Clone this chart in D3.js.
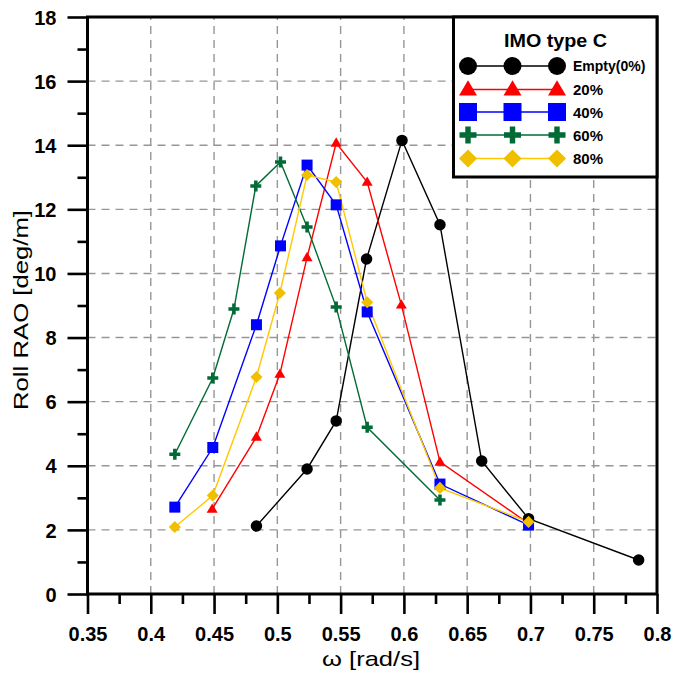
<!DOCTYPE html>
<html>
<head>
<meta charset="utf-8">
<script src="https://cdn.jsdelivr.net/npm/d3@7"></script>
<style>
  html, body { margin: 0; padding: 0; background: #fff; }
  svg { display: block; font-family: "Liberation Sans", Arial, sans-serif; }
</style>
</head>
<body>
<svg id="chart" width="673" height="674"></svg>
<script>
// Roll RAO vs wave frequency, IMO type C tank at several filling levels
const seriesNames = ["Empty(0%)", "20%", "40%", "60%", "80%"];
const seriesColors = ["#000000", "#ff0000", "#0000ff", "#006b35", "#ffc800"];
const markerColors = ["#000000", "#ff0000", "#0000ff", "#006b35", "#f0c000"];
const markerTypes = ["circle", "triangle", "square", "plus", "diamond"];

const omegaEmpty = [0.4835, 0.5235, 0.5465, 0.5705, 0.5985, 0.6285, 0.6615, 0.6985, 0.7855];
const raoEmpty   = [2.12, 3.90, 5.40, 10.45, 14.15, 11.52, 4.15, 2.35, 1.06];

const omega20 = [0.4485, 0.4835, 0.5020, 0.5235, 0.5465, 0.5710, 0.5980, 0.6285, 0.6985];
const rao20   = [2.65, 4.90, 6.86, 10.50, 14.07, 12.85, 9.02, 4.12, 2.20];

const omega40 = [0.4190, 0.4490, 0.4835, 0.5025, 0.5235, 0.5465, 0.5710, 0.6285, 0.6985];
const rao40   = [2.71, 4.57, 8.40, 10.86, 13.38, 12.14, 8.80, 3.43, 2.15];

const omega60 = [0.4190, 0.4490, 0.4657, 0.4830, 0.5025, 0.5235, 0.5465, 0.5710, 0.6285];
const rao60   = [4.36, 6.74, 8.89, 12.73, 13.48, 11.45, 8.95, 5.20, 2.93];

const omega80 = [0.4190, 0.4490, 0.4835, 0.5020, 0.5235, 0.5465, 0.5710, 0.6285, 0.6985];
const rao80   = [2.09, 3.07, 6.77, 9.39, 13.07, 12.85, 9.10, 3.31, 2.25];

const xTicks = [0.35, 0.4, 0.45, 0.5, 0.55, 0.6, 0.65, 0.7, 0.75, 0.8];
const yTicks = [0, 2, 4, 6, 8, 10, 12, 14, 16, 18];
const legendTitle = "IMO type C";
const xTitle = "ω [rad/s]";
const yTitle = "Roll RAO [deg/m]";

const omegas = [omegaEmpty, omega20, omega40, omega60, omega80];
const raos = [raoEmpty, rao20, rao40, rao60, rao80];
const series = seriesNames.map((name, i) => ({
  name, color: seriesColors[i], mcolor: markerColors[i], type: markerTypes[i],
  pts: omegas[i].map((w, j) => [w, raos[i][j]])
}));

const margin = { left: 87.5, top: 17, right: 16, bottom: 80 };
const W = 673, H = 674;
const svg = d3.select("#chart");

const x = d3.scaleLinear().domain([0.35, 0.8]).range([margin.left, W - margin.right]);
const y = d3.scaleLinear().domain([0, 18]).range([H - margin.bottom, margin.top]);

// dashed grid
const grid = svg.append("g");
grid.selectAll("line.v").data(xTicks.slice(1, -1)).join("line")
  .attr("x1", d => x(d)).attr("x2", d => x(d))
  .attr("y1", y(0)).attr("y2", y(18))
  .attr("stroke", "#969696").attr("stroke-width", 1.4).attr("stroke-dasharray", "8,6");
grid.selectAll("line.h").data(yTicks.slice(1, -1)).join("line")
  .attr("x1", x(0.35)).attr("x2", x(0.8))
  .attr("y1", d => y(d)).attr("y2", d => y(d))
  .attr("stroke", "#969696").attr("stroke-width", 1.4).attr("stroke-dasharray", "8,6");

// axes with minor ticks
const xMinor = d3.range(0.375, 0.8, 0.05);
const yMinor = d3.range(1, 18, 2);

const xAxis = svg.append("g").attr("transform", `translate(0,${y(0)})`)
  .call(d3.axisBottom(x).tickValues(xTicks).tickFormat(d => String(+d.toFixed(2))).tickSize(20).tickPadding(4).tickSizeOuter(0));
svg.append("g").attr("transform", `translate(0,${y(0)})`)
  .call(d3.axisBottom(x).tickValues(xMinor).tickFormat("").tickSize(10).tickSizeOuter(0))
  .select(".domain").remove();
const yAxis = svg.append("g").attr("transform", `translate(${x(0.35)},0)`)
  .call(d3.axisLeft(y).tickValues(yTicks).tickSize(20).tickPadding(11).tickSizeOuter(0));
svg.append("g").attr("transform", `translate(${x(0.35)},0)`)
  .call(d3.axisLeft(y).tickValues(yMinor).tickFormat("").tickSize(10).tickSizeOuter(0))
  .select(".domain").remove();

svg.selectAll(".tick line").attr("stroke", "#000").attr("stroke-width", 2.6);
[xAxis, yAxis].forEach(a => {
  a.attr("font-size", null).attr("font-family", null);
  a.selectAll("text").attr("fill", "#000").style("font-size", "20px").style("font-weight", "bold")
    .style("font-family", "'Liberation Sans', Arial, sans-serif");
  a.select(".domain").remove();
});
xAxis.selectAll("text").attr("dy", null).attr("y", 47);
yAxis.selectAll("text").attr("dy", "0.36em");

// series lines
const line = d3.line().x(d => x(d[0])).y(d => y(d[1]));
svg.append("g").selectAll("path").data(series).join("path")
  .attr("d", d => line(d.pts)).attr("fill", "none")
  .attr("stroke", d => d.color).attr("stroke-width", 1.4);

function drawMarker(g, type, color, s) {
  // s: nominal marker size (px)
  if (type === "circle") {
    g.append("circle").attr("r", s / 2).attr("fill", color);
  } else if (type === "triangle") {
    const h = s * 0.85, w = s;
    g.append("path").attr("d", `M0,${-h * 0.6}L${w / 2},${h * 0.4}L${-w / 2},${h * 0.4}Z`).attr("fill", color);
  } else if (type === "square") {
    g.append("rect").attr("x", -s / 2).attr("y", -s / 2).attr("width", s).attr("height", s).attr("fill", color);
  } else if (type === "plus") {
    const a = s / 2, t = s * 0.16;
    g.append("path").attr("d",
      `M${-t},${-a}H${t}V${-t}H${a}V${t}H${t}V${a}H${-t}V${t}H${-a}V${-t}H${-t}Z`).attr("fill", color);
  } else if (type === "diamond") {
    const a = s * 0.55;
    g.append("path").attr("d", `M0,${-a}L${a},0L0,${a}L${-a},0Z`).attr("fill", color);
  }
}
const plotSizes = { circle: 11.5, triangle: 11, square: 11, plus: 11, diamond: 11 };

series.forEach(sr => {
  const g = svg.append("g");
  sr.pts.forEach(p => {
    const m = g.append("g").attr("transform", `translate(${x(p[0])},${y(p[1])})`);
    drawMarker(m, sr.type, sr.mcolor, plotSizes[sr.type]);
  });
});

// plot frame
svg.append("rect")
  .attr("x", x(0.35)).attr("y", y(18))
  .attr("width", x(0.8) - x(0.35)).attr("height", y(0) - y(18))
  .attr("fill", "none").attr("stroke", "#000").attr("stroke-width", 3);

// legend
const lg = svg.append("g");
const lgLeft = 453.5, lgTop = y(18), lgRight = x(0.8), lgBottom = 177;
lg.append("rect").attr("x", lgLeft).attr("y", lgTop)
  .attr("width", lgRight - lgLeft).attr("height", lgBottom - lgTop)
  .attr("fill", "#fff").attr("stroke", "#000").attr("stroke-width", 3);
lg.append("text").attr("x", 504).attr("y", 46.5)
  .attr("font-size", 18).attr("font-weight", "bold")
  .attr("textLength", 103).attr("lengthAdjust", "spacingAndGlyphs")
  .text(legendTitle);
const rowY = [66, 89.5, 112, 135, 158.5];
const legendSizes = { circle: 18, triangle: 18, square: 18, plus: 17, diamond: 16.5 };
series.forEach((sr, i) => {
  const ry = rowY[i];
  lg.append("line").attr("x1", 468).attr("x2", 557).attr("y1", ry).attr("y2", ry)
    .attr("stroke", sr.color).attr("stroke-width", 1.4);
  [468, 512.5, 557].forEach(mx => {
    const m = lg.append("g").attr("transform", `translate(${mx},${ry})`);
    drawMarker(m, sr.type, sr.mcolor, legendSizes[sr.type]);
  });
  lg.append("text").attr("x", 573).attr("y", ry + (i === 0 ? 5 : 5.5))
    .attr("font-size", i === 0 ? 14 : 15).attr("font-weight", "bold").text(sr.name);
});

// axis titles
svg.append("text").attr("x", 322).attr("y", 666)
  .attr("font-size", 21).attr("textLength", 98).attr("lengthAdjust", "spacingAndGlyphs").text(xTitle);
svg.append("text").attr("transform", `translate(28,410) rotate(-90)`)
  .attr("font-size", 21).attr("textLength", 200).attr("lengthAdjust", "spacingAndGlyphs").text(yTitle);
</script>
</body>
</html>
